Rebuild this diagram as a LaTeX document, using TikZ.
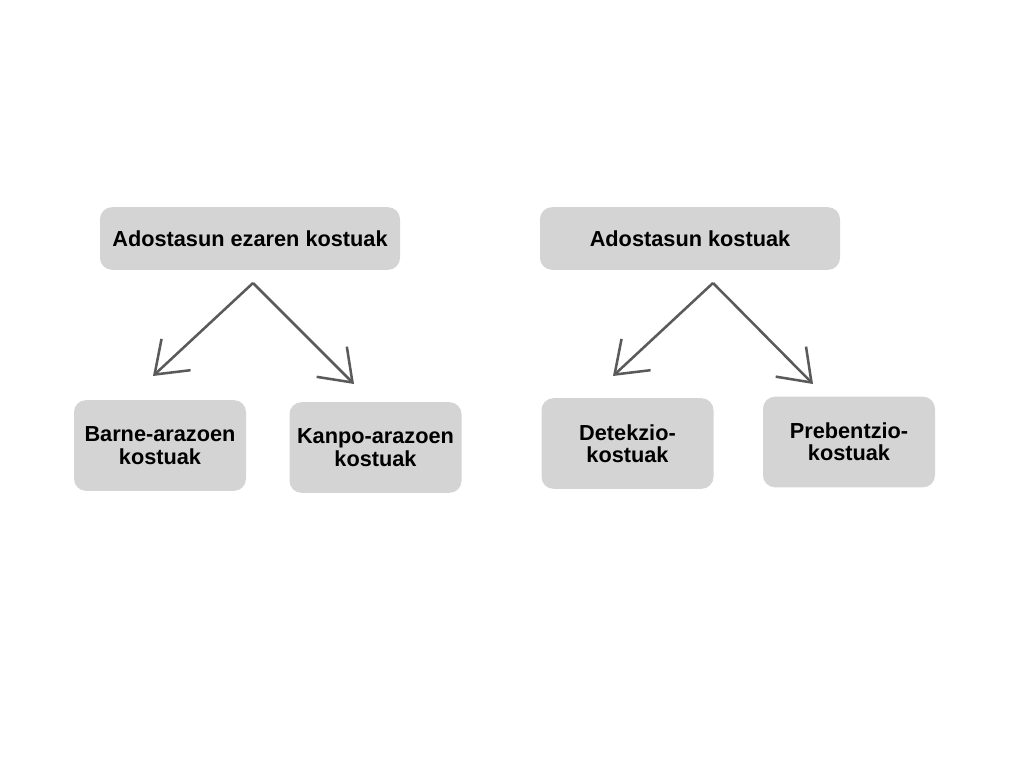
\documentclass[tikz,border=0pt]{standalone}
\usepackage{fontspec}
\setmainfont{Liberation Sans}
\usepackage{xcolor}
\usepackage{tikz}
\usetikzlibrary{arrows.meta}
\definecolor{boxgray}{HTML}{D4D4D4}
\definecolor{arrowgray}{HTML}{5A5A5A}

\begin{document}
\begin{tikzpicture}[x=0.75pt, y=-0.75pt,
  costbox/.style={rectangle, rounded corners=9pt, fill=boxgray, draw=none, align=center, inner sep=0pt,
    font=\bfseries\fontsize{16.3}{16.8}\selectfont},
  splitarrow/.style={draw=arrowgray, line width=1.9pt,
    -{Straight Barb[length=22pt, width=32pt, line width=1.9pt]}}]
\useasboundingbox (0,0) rectangle (1024,768);
% left tree
\node [costbox, minimum width=225pt, minimum height=47pt] (AE) at (250,238.5) {Adostasun ezaren kostuak};
\node [costbox, minimum width=129pt, minimum height=68pt] (B) at (160,445.5) {Barne-arazoen\\kostuak};
\node [costbox, minimum width=129pt, minimum height=68pt] (K) at (375.5,447.5) {Kanpo-arazoen\\kostuak};
\coordinate (AEs) at (253,283);
\coordinate (Bt) at (153,376);
\coordinate (Kt) at (354,384);
\draw [splitarrow] (AEs) to (Bt);
\draw [splitarrow] (AEs) to (Kt);
% right tree
\node [costbox, minimum width=225pt, minimum height=47pt] (AK) at (690,238.5) {Adostasun kostuak};
\node [costbox, minimum width=129pt, minimum height=68pt] (D) at (627.5,443.5) {Detekzio-\\kostuak};
\node [costbox, minimum width=129pt, minimum height=68pt] (P) at (849,442) {Prebentzio-\\kostuak};
\coordinate (AKs) at (713,283);
\coordinate (Dt) at (613,376);
\coordinate (Pt) at (813,384);
\draw [splitarrow] (AKs) to (Dt);
\draw [splitarrow] (AKs) to (Pt);
\end{tikzpicture}
\end{document}
